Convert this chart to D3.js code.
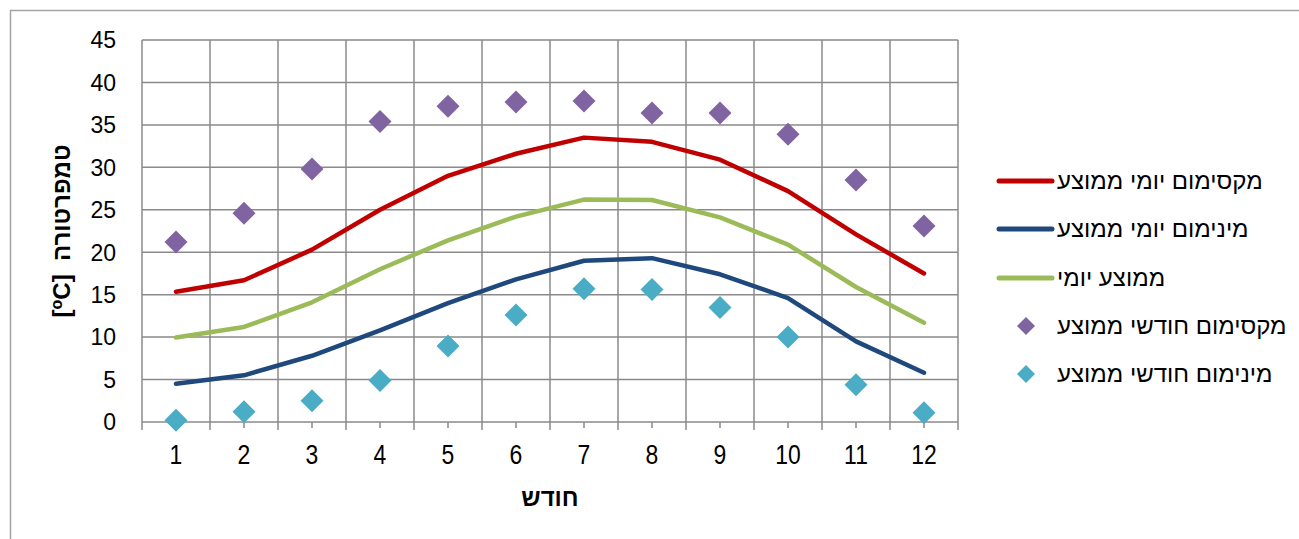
<!DOCTYPE html>
<html>
<head>
<meta charset="utf-8">
<script src="https://cdn.jsdelivr.net/npm/d3@7"></script>
<style>
  html, body { margin: 0; padding: 0; background: #fff; }
  svg { display: block; }
  text { font-family: "Liberation Sans", Arial, sans-serif; fill: #000; }
</style>
</head>
<body>
<svg id="chart" width="1299" height="539"></svg>
<script>
// ---- data ----
const months = [1, 2, 3, 4, 5, 6, 7, 8, 9, 10, 11, 12];
const dailyMax = [15.35, 16.7, 20.3, 25.0, 29.0, 31.6, 33.5, 33.0, 30.9, 27.2, 22.1, 17.5];
const dailyMin = [4.5, 5.5, 7.8, 10.8, 14.0, 16.8, 19.0, 19.3, 17.4, 14.6, 9.5, 5.8];
const dailyMean = [9.95, 11.2, 14.1, 18.0, 21.4, 24.2, 26.2, 26.15, 24.1, 20.9, 15.9, 11.7];
const monthlyMax = [21.2, 24.6, 29.8, 35.4, 37.2, 37.7, 37.8, 36.4, 36.4, 33.9, 28.5, 23.1];
const monthlyMin = [0.2, 1.2, 2.5, 4.9, 8.95, 12.6, 15.7, 15.6, 13.5, 10.0, 4.4, 1.1];
const yTicks = [0, 5, 10, 15, 20, 25, 30, 35, 40, 45];
const seriesNames = ["מקסימום יומי ממוצע", "מינימום יומי ממוצע", "ממוצע יומי", "מקסימום חודשי ממוצע", "מינימום חודשי ממוצע"];
const xTitle = "חודש";
const yTitleWord = "טמפרטורה";

// ---- layout ----
const svg = d3.select("#chart");
const plot = { left: 142, right: 958, top: 40, bottom: 422 };
const gridColor = "#8a8a8a";

// outer border
svg.append("rect")
  .attr("x", 10.5).attr("y", 10.5)
  .attr("width", 1400).attr("height", 700)
  .attr("fill", "none").attr("stroke", "#a3a3a3").attr("stroke-width", 1.5);

const x = d3.scaleBand().domain(months).range([plot.left, plot.right]).padding(0);
const y = d3.scaleLinear().domain([0, 45]).range([plot.bottom, plot.top]);
const cx = d => x(d) + x.bandwidth() / 2;

// horizontal gridlines
svg.append("g").selectAll("line").data(yTicks).join("line")
  .attr("x1", plot.left).attr("x2", plot.right)
  .attr("y1", d => y(d)).attr("y2", d => y(d))
  .attr("stroke", gridColor).attr("stroke-width", 1.5);

// vertical gridlines at category boundaries (extend below axis as tick marks)
const bounds = months.map(m => x(m)).concat([plot.right]);
svg.append("g").selectAll("line").data(bounds).join("line")
  .attr("x1", d => d).attr("x2", d => d)
  .attr("y1", plot.top).attr("y2", plot.bottom + 8)
  .attr("stroke", gridColor).attr("stroke-width", 1.5);

// minor ticks at category centers
svg.append("g").selectAll("line").data(months).join("line")
  .attr("x1", d => cx(d)).attr("x2", d => cx(d))
  .attr("y1", plot.bottom).attr("y2", plot.bottom + 6)
  .attr("stroke", gridColor).attr("stroke-width", 1.5);

// y axis labels
svg.append("g").selectAll("text").data(yTicks).join("text")
  .attr("x", 116).attr("y", d => y(d))
  .attr("dy", "0.36em")
  .attr("text-anchor", "end")
  .attr("font-size", 23)
  .text(d => d);

// x axis labels
svg.append("g").selectAll("text").data(months).join("text")
  .attr("transform", d => `translate(${cx(d)},464) scale(0.85,1)`)
  .attr("text-anchor", "middle")
  .attr("font-size", 27)
  .text(d => d);

// axis titles
svg.append("text")
  .attr("x", 550).attr("y", 506)
  .attr("text-anchor", "middle")
  .attr("font-size", 24).attr("font-weight", "bold")
  .text(xTitle);

const yt = svg.append("text")
  .attr("transform", "translate(70,231) rotate(-90)")
  .attr("text-anchor", "middle")
  .attr("font-size", 24).attr("font-weight", "bold")
  .attr("direction", "ltr");
yt.append("tspan").text("[");
yt.append("tspan").attr("font-size", 16).attr("dy", -8).text("o");
yt.append("tspan").attr("dy", 8).text("C]\u00A0\u00A0");
yt.append("tspan").text(yTitleWord);

// lines
const lineGen = vals => d3.line()
  .x((d, i) => cx(months[i]))
  .y(d => y(d))(vals);

const lineSeries = [
  { vals: dailyMax, color: "#C00000" },
  { vals: dailyMin, color: "#1F497D" },
  { vals: dailyMean, color: "#9BBB59" }
];
svg.append("g").selectAll("path").data(lineSeries).join("path")
  .attr("d", d => lineGen(d.vals))
  .attr("fill", "none")
  .attr("stroke", d => d.color)
  .attr("stroke-width", 4.5)
  .attr("stroke-linejoin", "round")
  .attr("stroke-linecap", "round");

// diamond markers
const diamond = (r) => `M0,${-r}L${r},0L0,${r}L${-r},0Z`;
const markerSeries = [
  { vals: monthlyMax, color: "#8064A2" },
  { vals: monthlyMin, color: "#4BACC6" }
];
markerSeries.forEach(s => {
  svg.append("g").selectAll("path").data(s.vals).join("path")
    .attr("transform", (d, i) => `translate(${cx(months[i])},${y(d)})`)
    .attr("d", diamond(11.5))
    .attr("fill", s.color);
});

// legend
const legRows = [181, 229, 278, 326, 374];
const legColors = ["#C00000", "#1F497D", "#9BBB59", "#8064A2", "#4BACC6"];
const leg = svg.append("g");
seriesNames.forEach((name, i) => {
  const ry = legRows[i];
  if (i < 3) {
    leg.append("line")
      .attr("x1", 999).attr("x2", 1052)
      .attr("y1", ry).attr("y2", ry)
      .attr("stroke", legColors[i]).attr("stroke-width", 5)
      .attr("stroke-linecap", "round");
  } else {
    leg.append("path")
      .attr("transform", `translate(1026,${ry})`)
      .attr("d", diamond(9))
      .attr("fill", legColors[i]);
  }
  leg.append("text")
    .attr("x", 1057).attr("y", ry)
    .attr("dy", "0.35em")
    .attr("text-anchor", "start")
    .attr("font-size", 24)
    .text(name);
});
</script>
</body>
</html>
